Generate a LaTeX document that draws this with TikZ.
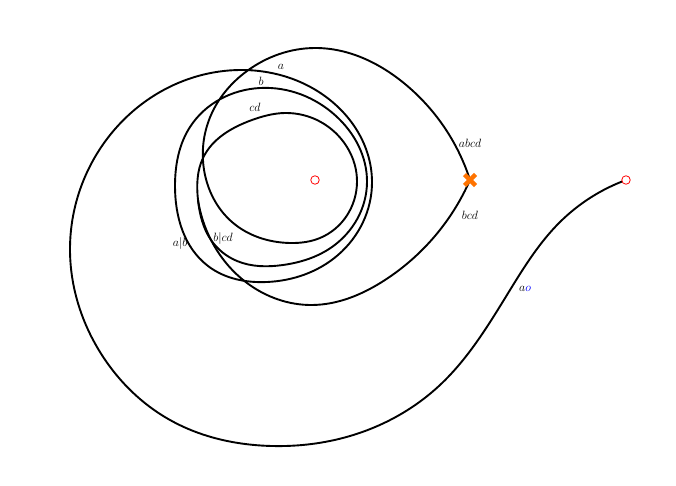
\documentclass[tikz,border=0pt]{standalone}
\usetikzlibrary{calc,hobby}
\begin{document}
\begin{tikzpicture}[x=1pt,y=-1pt,
  curve/.style={line width=1.9pt,line join=round,use Hobby shortcut},
  lab/.style={inner sep=0pt,font=\fontsize{13}{15}\selectfont},
  pt/.style={circle,draw=red,fill=white,line width=0.8pt,minimum size=8.5pt,inner sep=0pt},
  cross/.style={draw=orange!90!red,line width=4.4pt}]
\useasboundingbox (0,0) rectangle (676,486);
% main spiral
\draw[curve] (626,180) .. (560,222) .. (510,290) .. (440,385) .. (350,436)
 .. (272,446) .. (170,420) .. (100,352) .. (70,250) .. (98,152) .. (160,92)
 .. (240,70) .. (314,89) .. (372,182) .. (338,255) .. (267,282) .. (208,266)
 .. (175,185) .. (190,127) .. (260,88) .. (336,116) .. (367,182) .. (332,247)
 .. (283,265) .. (237,261) .. (211,240) .. (198,200) .. (203,158) .. (252,120)
 .. (285,113) .. (347,147) .. (357,182) .. (320,238) .. (290,243) .. (232,222)
 .. (205,175) .. (211,115) .. (247,71) .. (315,48) .. (405,84) .. (470,180);
% lower branch of the teardrop
\draw[curve] (198,200) .. (211,240) .. (247,283) .. (312,305) .. (385,280) .. (470,180);
\node[pt] (c) at (315,180) {};
\node[pt] (o) at (626,180) {};
\coordinate (x) at (470,180);
\draw[cross] ($(x)+(-5.5,-5.5)$) -- ($(x)+(5.5,5.5)$) ($(x)+(-5.5,5.5)$) -- ($(x)+(5.5,-5.5)$);
\node[lab] (la) at (281,67) {$a$};
\node[lab] (lb) at (261,81) {$b$};
\node[lab] (lcd) at (255,107) {$cd$};
\node[lab] (labcd) at (470,143) {$abcd$};
\node[lab] (lbcd) at (470,215) {$bcd$};
\node[lab] (lab1) at (180,243) {$a|b$};
\node[lab] (lab2) at (223,238) {$b|cd$};
\node[lab] (lao) at (525,289) {$a\textcolor{blue}{o}$};
\end{tikzpicture}
\end{document}
